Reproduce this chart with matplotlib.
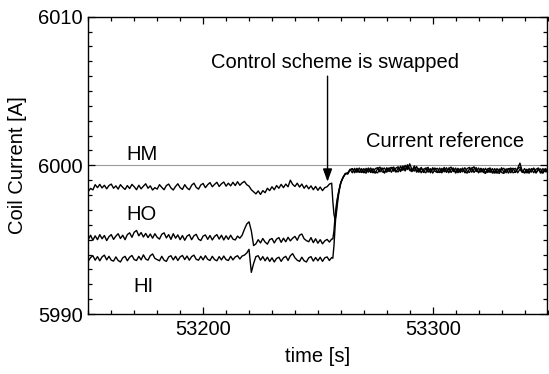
import numpy as np
import matplotlib
matplotlib.use("Agg")
import matplotlib.pyplot as plt
from matplotlib.ticker import MultipleLocator

plt.rcParams['font.family'] = ['Liberation Sans', 'DejaVu Sans']

# ---------------- data ----------------
t_pre = np.arange(53150, 53257)          # 1 s samples before the swap
t_tr = [53256.5, 53257.0, 53257.5, 53258.0, 53258.5, 53259.0, 53259.5, 53260.0, 53261.0, 53262.0]
t_post = np.arange(53263, 53351)          # 1 s samples after the swap

HM_pre = [5998.25, 5998.45, 5998.35, 5998.70, 5998.50, 5998.72, 5998.48, 5998.66, 5998.42, 5998.64,
          5998.74, 5998.46, 5998.62, 5998.40, 5998.70, 5998.52, 5998.38, 5998.64, 5998.44, 5998.72,
          5998.56, 5998.36, 5998.66, 5998.42, 5998.60, 5998.76, 5998.46, 5998.62, 5998.34, 5998.50,
          5998.40, 5998.70, 5998.52, 5998.36, 5998.64, 5998.74, 5998.48, 5998.34, 5998.58, 5998.76,
          5998.50, 5998.38, 5998.70, 5998.48, 5998.36, 5998.66, 5998.80, 5998.52, 5998.40, 5998.68,
          5998.78, 5998.50, 5998.70, 5998.84, 5998.56, 5998.72, 5998.86, 5998.58, 5998.76, 5998.88,
          5998.60, 5998.80, 5998.62, 5998.86, 5998.64, 5998.90, 5998.66, 5998.82, 5998.92, 5998.70,
          5998.60, 5998.36, 5998.22, 5998.08, 5998.28, 5998.04, 5998.30, 5998.16, 5998.46, 5998.30,
          5998.56, 5998.36, 5998.64, 5998.46, 5998.72, 5998.50, 5998.74, 5998.56, 5999.00, 5998.72,
          5998.58, 5998.80, 5998.54, 5998.74, 5998.46, 5998.66, 5998.42, 5998.62, 5998.36, 5998.58,
          5998.32, 5998.54, 5998.30, 5998.50, 5998.56, 5998.74, 5998.80]
HO_pre = [5995.02, 5995.30, 5994.96, 5995.26, 5995.00, 5995.34, 5995.06, 5995.28, 5994.94, 5995.20,
          5995.34, 5995.02, 5995.24, 5995.40, 5995.08, 5995.30, 5995.00, 5995.34, 5995.46, 5995.16,
          5995.50, 5995.62, 5995.26, 5995.48, 5995.18, 5995.42, 5995.14, 5995.38, 5995.10, 5995.40,
          5995.16, 5995.04, 5995.36, 5995.46, 5995.12, 5995.34, 5995.02, 5995.40, 5995.10, 5995.32,
          5995.00, 5995.28, 5994.96, 5995.24, 5995.34, 5995.00, 5995.26, 5995.36, 5995.04, 5994.94,
          5995.24, 5995.32, 5995.02, 5995.28, 5994.98, 5995.22, 5995.34, 5995.04, 5995.30, 5994.98,
          5995.26, 5995.02, 5995.30, 5995.04, 5994.98, 5995.24, 5995.10, 5995.30, 5995.70, 5996.05,
          5996.20, 5995.60, 5994.60, 5994.72, 5995.00, 5994.78, 5995.08, 5994.84, 5994.70, 5995.00,
          5995.08, 5994.78, 5995.04, 5995.14, 5994.82, 5995.10, 5994.86, 5995.16, 5994.92, 5995.10,
          5995.22, 5994.96, 5995.30, 5995.38, 5995.06, 5994.94, 5994.86, 5995.14, 5994.80, 5995.06,
          5994.76, 5995.00, 5994.72, 5994.92, 5995.02, 5994.84, 5995.04]
HI_pre = [5993.56, 5993.80, 5993.92, 5993.62, 5993.86, 5993.58, 5993.84, 5993.96, 5993.64, 5993.88,
          5993.62, 5993.56, 5993.84, 5993.60, 5993.50, 5993.78, 5993.88, 5993.58, 5993.82, 5993.94,
          5993.66, 5993.60, 5993.88, 5993.64, 5993.98, 5993.70, 5993.62, 5993.92, 5994.04, 5993.74,
          5993.66, 5993.58, 5993.88, 5993.62, 5993.54, 5993.84, 5993.92, 5993.64, 5993.88, 5993.60,
          5993.84, 5993.94, 5993.66, 5993.90, 5993.62, 5993.86, 5993.96, 5993.68, 5993.62, 5993.88,
          5993.64, 5993.92, 5993.68, 5993.60, 5993.88, 5993.66, 5993.58, 5993.86, 5993.64, 5993.90,
          5993.66, 5993.60, 5993.88, 5993.64, 5993.84, 5993.92, 5993.70, 5993.90, 5993.96, 5994.10,
          5994.35, 5992.80, 5993.40, 5993.86, 5993.92, 5993.62, 5993.86, 5993.58, 5993.82, 5993.54,
          5993.78, 5993.50, 5993.74, 5993.82, 5993.54, 5993.78, 5993.88, 5993.60, 5993.92, 5994.06,
          5993.78, 5993.62, 5993.54, 5993.82, 5993.58, 5993.50, 5993.78, 5993.86, 5993.56, 5993.80,
          5993.58, 5993.82, 5993.54, 5993.78, 5993.84, 5993.60, 5993.80]

HM_tr = [5997.60, 5996.70, 5996.35, 5996.70, 5997.40, 5998.00, 5998.50, 5998.85, 5999.20, 5999.45]
HO_tr = [5995.05, 5995.60, 5996.60, 5997.30, 5997.80, 5998.20, 5998.55, 5998.85, 5999.20, 5999.45]
HI_tr = [5993.75, 5994.60, 5995.90, 5997.00, 5997.70, 5998.15, 5998.50, 5998.85, 5999.20, 5999.45]

HM_post = [5999.50, 5999.70, 5999.78, 5999.56, 5999.80, 5999.60, 5999.52, 5999.78, 5999.58, 5999.82,
           5999.60, 5999.50, 5999.78, 5999.84, 5999.56, 5999.74, 5999.82, 5999.54, 5999.78, 5999.86,
           5999.60, 5999.82, 5999.90, 5999.64, 5999.96, 5999.70, 6000.04, 5999.78, 5999.66, 5999.96,
           5999.64, 5999.54, 5999.86, 5999.60, 5999.50, 5999.80, 5999.56, 5999.84, 5999.60, 5999.52,
           5999.82, 5999.58, 5999.86, 5999.54, 5999.78, 5999.88, 5999.58, 5999.82, 5999.50, 5999.78,
           5999.56, 5999.84, 5999.60, 5999.52, 5999.80, 5999.90, 5999.58, 5999.82, 5999.54, 5999.78,
           5999.50, 5999.76, 5999.82, 5999.54, 5999.48, 5999.78, 5999.56, 5999.84, 5999.52, 5999.76,
           5999.48, 5999.74, 5999.80, 5999.52, 5999.76, 5999.88, 5999.62, 5999.54, 5999.50, 5999.78,
           5999.54, 5999.82, 5999.52, 5999.76, 5999.48, 5999.78, 5999.56, 5999.80]
HO_post = [5999.44, 5999.74, 5999.50, 5999.80, 5999.52, 5999.82, 5999.60, 5999.50, 5999.80, 5999.54,
           5999.82, 5999.56, 5999.48, 5999.78, 5999.88, 5999.56, 5999.52, 5999.84, 5999.58, 5999.80,
           5999.88, 5999.62, 5999.56, 5999.94, 5999.66, 6000.00, 5999.72, 6000.10, 5999.70, 5999.62,
           5999.92, 5999.58, 5999.82, 5999.52, 5999.78, 5999.86, 5999.50, 5999.74, 5999.82, 5999.56,
           5999.52, 5999.80, 5999.56, 5999.84, 5999.50, 5999.76, 5999.82, 5999.54, 5999.80, 5999.56,
           5999.82, 5999.50, 5999.78, 5999.86, 5999.54, 5999.76, 5999.84, 5999.52, 5999.78, 5999.56,
           5999.80, 5999.52, 5999.74, 5999.48, 5999.78, 5999.54, 5999.46, 5999.74, 5999.80, 5999.50,
           5999.74, 5999.82, 5999.50, 5999.56, 5999.80, 6000.15, 5999.60, 5999.48, 5999.74, 5999.52,
           5999.78, 5999.50, 5999.74, 5999.82, 5999.54, 5999.48, 5999.78, 5999.54]
HI_post = [5999.42, 5999.68, 5999.76, 5999.50, 5999.74, 5999.52, 5999.78, 5999.56, 5999.48, 5999.76,
           5999.52, 5999.78, 5999.54, 5999.50, 5999.76, 5999.82, 5999.48, 5999.74, 5999.82, 5999.54,
           5999.78, 5999.54, 5999.84, 5999.58, 5999.88, 5999.62, 5999.94, 5999.66, 5999.58, 5999.88,
           5999.54, 5999.80, 5999.50, 5999.74, 5999.82, 5999.54, 5999.78, 5999.48, 5999.72, 5999.80,
           5999.58, 5999.50, 5999.78, 5999.54, 5999.82, 5999.52, 5999.76, 5999.48, 5999.74, 5999.52,
           5999.78, 5999.56, 5999.48, 5999.76, 5999.82, 5999.52, 5999.74, 5999.50, 5999.80, 5999.54,
           5999.46, 5999.74, 5999.52, 5999.78, 5999.54, 5999.48, 5999.76, 5999.52, 5999.46, 5999.72,
           5999.78, 5999.50, 5999.72, 5999.80, 5999.50, 5999.74, 5999.52, 5999.78, 5999.54, 5999.48,
           5999.72, 5999.78, 5999.48, 5999.70, 5999.76, 5999.50, 5999.74, 5999.52]

reference_current = 6000.0
swap_time = 53254.2

# ---------------- figure ----------------
W, H = 549, 374
fig = plt.figure(figsize=(W / 100, H / 100), dpi=100)
ax = fig.add_axes([88.3 / W, 1 - 314 / H, (547.5 - 88.3) / W, (314 - 16.7) / H])

FS = 14.5

ax.axhline(reference_current, color='#9a9a9a', lw=0.8, zorder=1)

t_all = np.concatenate([t_pre, t_tr, t_post])
for pre, tr, post in [(HM_pre, HM_tr, HM_post), (HO_pre, HO_tr, HO_post), (HI_pre, HI_tr, HI_post)]:
    y = np.concatenate([pre, tr, post])
    ax.plot(t_all, y, color='black', lw=1.0, zorder=2)

ax.set_xlim(53150, 53350)
ax.set_ylim(5990, 6010)
ax.xaxis.set_major_locator(MultipleLocator(100))
ax.xaxis.set_minor_locator(MultipleLocator(10))
ax.yaxis.set_major_locator(MultipleLocator(10))
ax.yaxis.set_minor_locator(MultipleLocator(1))
ax.tick_params(which='both', direction='in', top=True, right=True, labelsize=FS, width=0.9)
ax.tick_params(which='major', length=5, pad=4)
ax.tick_params(which='minor', length=2.6)
for s in ax.spines.values():
    s.set_linewidth(1.0)

ax.set_xlabel('time [s]', fontsize=FS, labelpad=6)
ax.set_ylabel('Coil Current [A]', fontsize=FS, labelpad=8)

ax.text(53257.3, 6006.93, 'Control scheme is swapped', fontsize=FS, ha='center', va='center')
ax.annotate('', xy=(swap_time, 5998.9), xytext=(swap_time, 6006.0),
            arrowprops=dict(arrowstyle='-|>,head_length=0.55,head_width=0.2', color='black',
                            lw=1.0, mutation_scale=14, shrinkA=0, shrinkB=0))
ax.text(53305.3, 6001.6, 'Current reference', fontsize=FS, ha='center', va='center')
ax.text(53173.3, 6000.74, 'HM', fontsize=FS, ha='center', va='center')
ax.text(53173.3, 5996.7, 'HO', fontsize=FS, ha='center', va='center')
ax.text(53174.2, 5991.86, 'HI', fontsize=FS, ha='center', va='center')

fig.savefig('out.png', dpi=100)
